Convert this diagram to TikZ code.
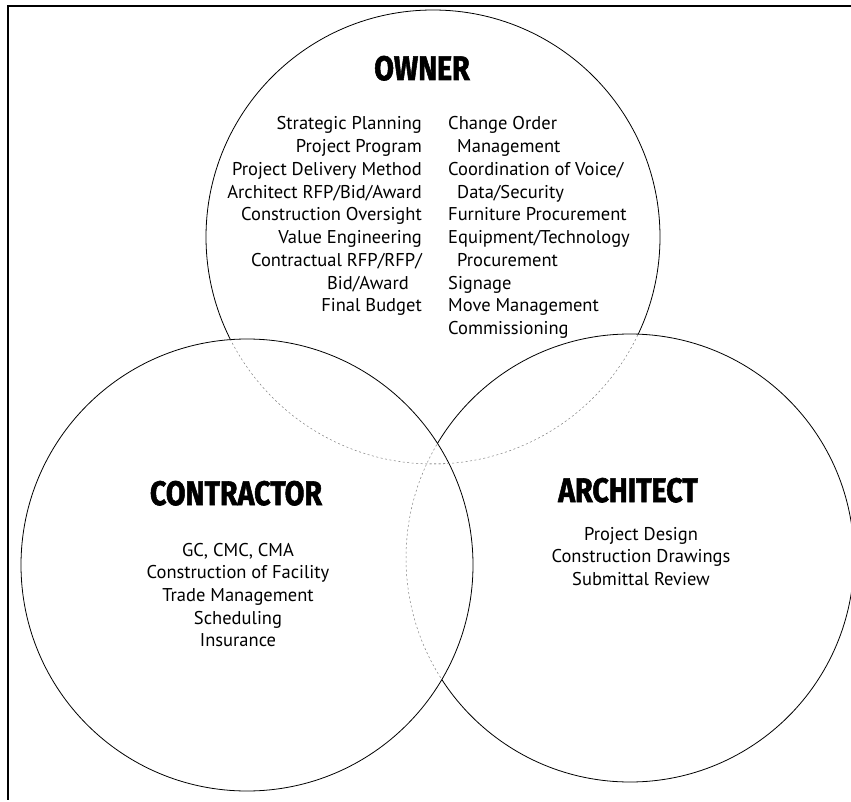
\documentclass[tikz,border=0pt]{standalone}
\usepackage{fontspec}
\setmainfont{PT Sans}
\newfontfamily\titlefont{Fira Sans}[BoldFeatures={FakeBold=1.8}]
\begin{document}
\begin{tikzpicture}[x=1pt,y=-1pt,
  ring/.style={line width=0.8pt, black},
  faint/.style={line width=0.5pt, gray, dash pattern=on 2pt off 2.5pt},
  titletext/.style={inner sep=0pt, anchor=base, font=\titlefont\bfseries\fontsize{34}{40}\selectfont},
  bodytext/.style={inner sep=0pt, font=\fontsize{18.5}{22}\selectfont},
]
\useasboundingbox (0,0) rectangle (851,802);
\fill[white] (0,0) rectangle (851,802);
% frame
\draw[line width=2.5pt] (851,6) -- (8,6) -- (8,800);
% circle centres
\coordinate (O) at (433,237);
\coordinate (C) at (247,565);
\coordinate (A) at (630,558);
% contractor circle
\draw[ring] (C) circle[radius=226pt];
% architect circle
\begin{scope}[even odd rule]
  \clip (0,0) rectangle (851,802) (C) circle[radius=226pt];
  \draw[ring] (A) circle[radius=224pt];
\end{scope}
\begin{scope}
  \clip (C) circle[radius=226pt];
  \draw[faint] (A) circle[radius=224pt];
\end{scope}
% owner circle
\begin{scope}[even odd rule]
  \clip (0,0) rectangle (851,802) (C) circle[radius=226pt];
  \clip (0,0) rectangle (851,802) (A) circle[radius=224pt];
  \draw[ring] (O) circle[radius=227pt];
\end{scope}
\begin{scope}
  \clip (C) circle[radius=226pt];
  \draw[faint] (O) circle[radius=227pt];
\end{scope}
\begin{scope}
  \clip (A) circle[radius=224pt];
  \draw[faint] (O) circle[radius=227pt];
\end{scope}
% titles
\node[titletext] (owner) at (422,80) {\scalebox{0.84}[1]{OWNER}};
\node[titletext] (contractor) at (236,505) {\scalebox{0.84}[1]{CONTRACTOR}};
\node[titletext] (architect) at (628,502) {\scalebox{0.84}[1]{ARCHITECT}};
% owner lists
\foreach \t [count=\i from 0] in {Strategic Planning, Project Program, Project Delivery Method, Architect RFP/Bid/Award, Construction Oversight, Value Engineering, Contractual RFP/RFP/, Bid/Award\hspace*{13pt}, Final Budget}
  \node[bodytext, anchor=base east] (ol\i) at (422,{130+22.75*\i}) {\t};
\foreach \t [count=\i from 0] in {Change Order, \hspace*{9pt}Management, Coordination of Voice/, \hspace*{9pt}Data/Security, Furniture Procurement, Equipment/Technology, \hspace*{9pt}Procurement, Signage, Move Management, Commissioning}
  \node[bodytext, anchor=base west] (or\i) at (448,{130+22.75*\i}) {\t};
% contractor list
\foreach \t [count=\i from 0] in {{GC, CMC, CMA}, Construction of Facility, Trade Management, Scheduling, Insurance}
  \node[bodytext, anchor=base] (cl\i) at (238,{556+22.7*\i}) {\t};
% architect list
\foreach \t [count=\i from 0] in {Project Design, Construction Drawings, Submittal Review}
  \node[bodytext, anchor=base] (al\i) at (641,{540+22.5*\i}) {\t};
\end{tikzpicture}
\end{document}
